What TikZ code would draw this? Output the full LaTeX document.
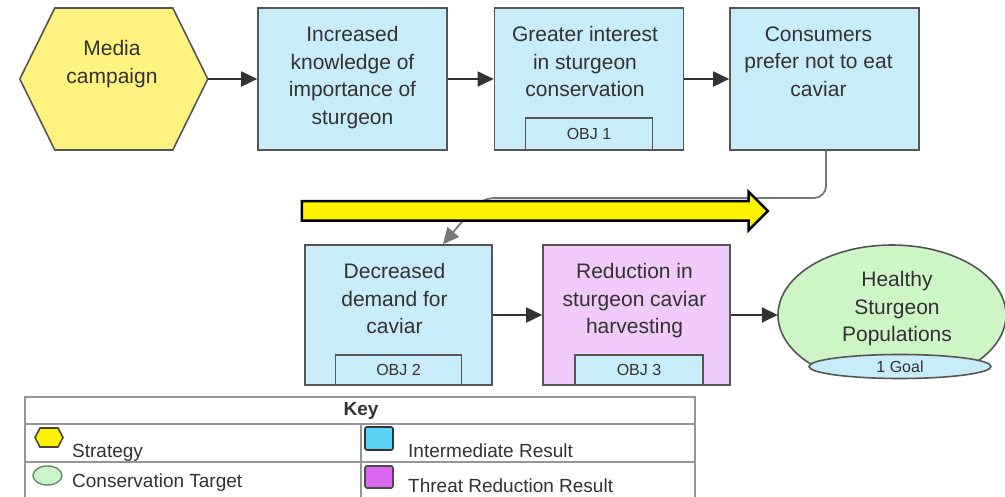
\documentclass[tikz,border=0pt]{standalone}
\usepackage{fontspec}
\setmainfont{Liberation Sans}
\usetikzlibrary{positioning}
\usetikzlibrary{arrows.meta}
\usetikzlibrary{shapes.geometric}
\usetikzlibrary{shapes.arrows}
\definecolor{irBlue}{RGB}{200,236,250}
\definecolor{trPink}{RGB}{240,202,248}
\definecolor{goalGreen}{RGB}{206,245,198}
\definecolor{hexYellow}{RGB}{255,243,128}
\definecolor{boxLine}{RGB}{85,85,85}
\definecolor{txtGray}{RGB}{50,50,50}
\definecolor{keyLine}{RGB}{150,150,150}
\definecolor{keyBlue}{RGB}{90,210,245}
\definecolor{keyPink}{RGB}{218,102,240}
\definecolor{keyGreen}{RGB}{204,245,204}
\newcommand{\boxfont}{\fontsize{21}{27.5}\selectfont}
\newcommand{\objfont}{\fontsize{16}{19}\selectfont}
\newcommand{\keyfont}{\fontsize{19}{23}\selectfont}

\begin{document}
\begin{tikzpicture}[x=1pt,y=1pt]

            \tikzstyle{irBox} = [draw=boxLine, fill=irBlue, line width=1.6pt, minimum width=189pt, minimum height=142pt, inner sep=0pt];
            \tikzstyle{trBox} = [irBox, fill=trPink, minimum height=140pt];
            \tikzstyle{objBox} = [draw=boxLine, fill=irBlue, line width=1.6pt, minimum width=127pt, minimum height=32pt, inner sep=0pt, font=\objfont, text=txtGray];
            \tikzstyle{boxText} = [align=center, font=\boxfont, text=txtGray, inner sep=0pt];
            \tikzstyle{link} = [draw=txtGray, line width=1.8pt, -{Triangle[length=16pt,width=15pt]}];
            \tikzstyle{keyText} = [anchor=base west, font=\keyfont, text=txtGray, inner sep=0pt];
            \tikzstyle{keyLines} = [draw=keyLine, line width=1.2pt];

            \useasboundingbox (0,0) rectangle (1005,496);

            % top row
            \node[minimum width=188pt, minimum height=142pt] (mc) at (114,417) {};
            \draw[draw=boxLine, fill=hexYellow, line width=1.6pt]
              (mc.west) -- ++(35,71) -- ++(118,0) -- ++(35,-71) -- ++(-35,-71) -- ++(-118,0) -- cycle;
            \node[boxText] (mctxt) at (112,432) {Media\\campaign};

            \node[irBox] (ik) at (352.5,417) {};
            \node[irBox] (gi) at (589,417) {};
            \node[irBox] (cp) at (824.5,417) {};
            \node[objBox, anchor=south] (obj1) at (gi.south) {OBJ 1};

            \node[boxText, below=19pt of ik.north] (iktxt) {Increased\\knowledge of\\importance of\\sturgeon};
            \node[boxText, below=19pt of gi.north, xshift=-4pt] (gitxt) {Greater interest\\in sturgeon\\conservation};
            \node[boxText, below=19pt of cp.north, xshift=-6pt] (cptxt) {Consumers\\prefer not to eat\\caviar};

            % bottom row
            \node[irBox, minimum width=187pt, minimum height=140pt] (dd) at (398.5,181) {};
            \node[trBox, minimum width=187pt] (rh) at (636.5,181) {};
            \node[objBox, anchor=south, minimum width=126pt, minimum height=30pt] (obj2) at (dd.south) {OBJ 2};
            \node[objBox, anchor=south, minimum width=128pt, minimum height=30pt, xshift=2.5pt] (obj3) at (rh.south) {OBJ 3};

            \node[boxText, below=19pt of dd.north, xshift=-4pt] (ddtxt) {Decreased\\demand for\\caviar};
            \node[boxText, below=19pt of rh.north, xshift=-2pt] (rhtxt) {Reduction in\\sturgeon caviar\\harvesting};

            \node[ellipse, minimum width=228pt, minimum height=140pt, inner sep=0pt] (goal) at (892,181) {};
            \begin{scope}
              \clip (760,130) rectangle (1010,260);
              \draw[draw=boxLine, fill=goalGreen, line width=1.6pt] (goal.center) ellipse [x radius=114, y radius=70];
            \end{scope}
            \node[ellipse, draw=boxLine, fill=irBlue, line width=1.6pt, minimum width=182pt, minimum height=24pt, inner sep=0pt, font=\objfont, text=txtGray] (goalobj) at (900,129.5) {1 Goal};
            \node[boxText] (goaltxt) at (897,187) {Healthy\\Sturgeon\\Populations};

            % links
            \draw[link] (mc.east) -- (ik.west);
            \draw[link] (ik.east) -- (gi.west);
            \draw[link] (gi.east) -- (cp.west);
            \draw[link] (dd.east) -- (rh.west);
            \draw[link] (rh.east) -- (goal.west);
            \draw[link, draw=boxLine!80, rounded corners=12pt] ([xshift=1.5pt]cp.south) -- (826,298) -- (482,298) -- ([xshift=44.5pt]dd.north);

            % yellow arrow
            \node[single arrow, draw=black, fill=yellow, line width=2.5pt, minimum height=466pt,
                  inner sep=0pt, inner ysep=8.5pt, single arrow head extend=9.5pt] (bigarrow) at (530,285) {};

            % key
            \draw[keyLines] (25,99) rectangle (695,-10);
            \draw[keyLines] (25,72) -- (695,72);
            \draw[keyLines] (25,34) -- (695,34);
            \draw[keyLines] (361,72) -- (361,-10);
            \node[font=\keyfont\bfseries, text=txtGray] (keyhead) at (361,85) {Key};

            \coordinate (khex) at (49,58.5);
            \draw[draw=black!70!yellow!60!black, fill=yellow, line width=1.6pt]
              (khex) ++(-14,0) -- ++(5,9.5) -- ++(18,0) -- ++(5,-9.5) -- ++(-5,-9.5) -- ++(-18,0) -- cycle;
            \node[ellipse, draw=green!25!black!60, fill=keyGreen, line width=1.4pt, minimum width=29pt, minimum height=19pt, inner sep=0pt] (kgreen) at (47.5,20.5) {};
            \node[draw=black!80, fill=keyBlue, line width=1.6pt, rounded corners=2pt, minimum width=28pt, minimum height=23pt, inner sep=0pt] (kblue) at (379,57.5) {};
            \node[draw=black!70, fill=keyPink, line width=1.6pt, rounded corners=2pt, minimum width=28pt, minimum height=22pt, inner sep=0pt] (kpink) at (379,19) {};

            \node[keyText] (kstrat) at (72,39) {Strategy};
            \node[keyText] (ktarget) at (72,9) {Conservation Target};
            \node[keyText] (kinter) at (408,38) {Intermediate Result};
            \node[keyText] (kthreat) at (408,4) {Threat Reduction Result};

\end{tikzpicture}
\end{document}
